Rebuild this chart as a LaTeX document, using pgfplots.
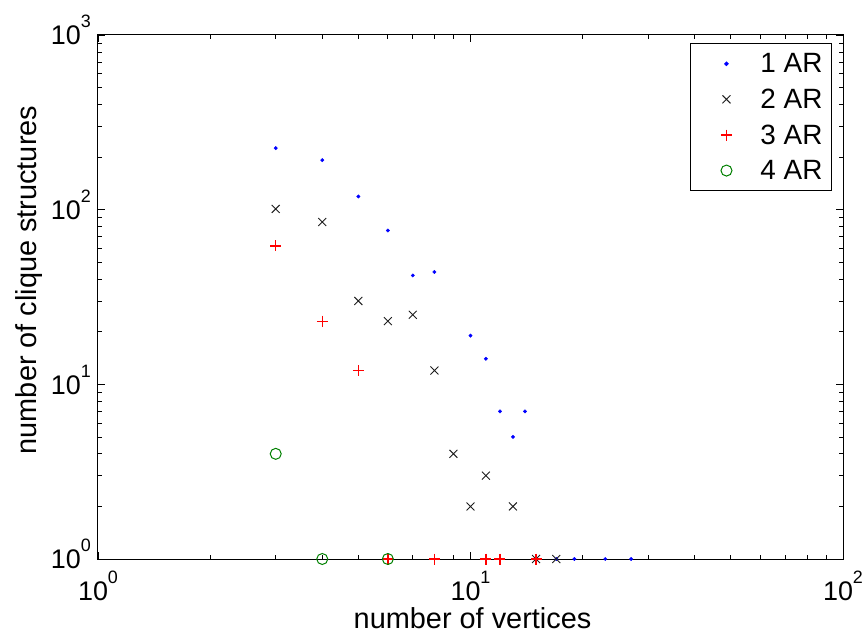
\documentclass[border=0pt]{standalone}
\usepackage{fontspec}
\setmainfont{Liberation Sans}
\usepackage{pgfplots}
\pgfplotsset{compat=1.18}

\definecolor{arblue}{RGB}{0,0,255}
\definecolor{arblack}{RGB}{30,30,30}
\definecolor{arred}{RGB}{255,0,0}
\definecolor{argreen}{RGB}{0,128,0}

% power-of-ten tick labels set in the text font
\newcommand{\dec}[1]{10\raisebox{17bp}{\fontsize{18}{18}\selectfont #1}}

% legend entry: a single mark, with room on its left
\pgfplotsset{marklegend/.style={legend image code/.code={%
  \path[draw=none, fill=none] (0bp,-6bp) rectangle (44bp,6bp);
  \draw[##1] plot coordinates {(36bp,0bp)};}}}

\pgfplotsset{
  ar1/.style={only marks, marklegend, mark=*, mark size=1.7bp, color=arblue,
    mark options={draw=arblue, fill=arblue}},
  ar2/.style={only marks, marklegend, mark=x, mark size=5.6bp, color=arblack,
    mark options={draw=arblack, line width=0.9bp}},
  ar3/.style={only marks, marklegend, mark=+, mark size=5.5bp, color=arred,
    mark options={draw=arred, line width=1.3bp}},
  ar4/.style={only marks, marklegend, mark=o, mark size=5.5bp, color=argreen,
    mark options={draw=argreen, line width=1bp}},
}

\begin{document}
\begin{tikzpicture}
\begin{axis}[
  at={(0,0)}, anchor=south west,
  scale only axis,
  width=745bp, height=524bp,
  xmode=log, ymode=log,
  xmin=1, xmax=100, ymin=1, ymax=1000,
  xtick={1,10,100}, ytick={1,10,100,1000},
  xticklabels={\dec{0},\dec{1},\dec{2}},
  yticklabels={\dec{0},\dec{1},\dec{2},\dec{3}},
  axis line style={line width=1bp},
  every tick/.style={black, line width=0.8bp},
  major tick length=7bp, minor tick length=4bp,
  tick align=inside,
  ticklabel style={font=\fontsize{27}{32}\selectfont, inner sep=0bp},
  xticklabel style={anchor=base, yshift=-41bp},
  yticklabel style={anchor=base east, xshift=-7bp, yshift=-9.7bp},
  xlabel={number of vertices},
  ylabel={number of clique structures},
  label style={font=\fontsize{29}{34}\selectfont, inner sep=0bp},
  xlabel style={at={(axis description cs:0.5027,-0.1317)}, anchor=base},
  ylabel style={at={(axis description cs:-0.0832,0.5324)}, anchor=base},
  legend style={at={(1,1)}, anchor=north east, xshift=-11bp, yshift=-8bp,
    draw=black, line width=1bp, font=\fontsize{28}{33}\selectfont,
    inner xsep=0bp, inner ysep=6bp, column sep=17bp, row sep=6.7bp,
    nodes={inner xsep=9bp, inner ysep=4bp}},
  legend cell align=left,
  clip=false,
]
\addplot[ar1]
  coordinates {(3,225) (4,192) (5,119) (6,76) (7,42) (8,44) (10,19) (11,14)
               (12,7) (13,5) (14,7) (17,1) (19,1) (23,1) (27,1)};
\addlegendentry{1 AR}
\addplot[ar2]
  coordinates {(3,101) (4,85) (5,30) (6,23) (7,25) (8,12) (9,4) (10,2)
               (11,3) (13,2) (15,1) (17,1)};
\addlegendentry{2 AR}
\addplot[ar3]
  coordinates {(3,62) (4,23) (5,12) (6,1) (8,1) (11,1) (12,1) (15,1)};
\addlegendentry{3 AR}
\addplot[ar4]
  coordinates {(3,4) (4,1) (6,1)};
\addlegendentry{4 AR}
\end{axis}
\pgfresetboundingbox
\path[use as bounding box] (-98bp,-78bp) rectangle (768bp,559bp);
\end{tikzpicture}
\end{document}
